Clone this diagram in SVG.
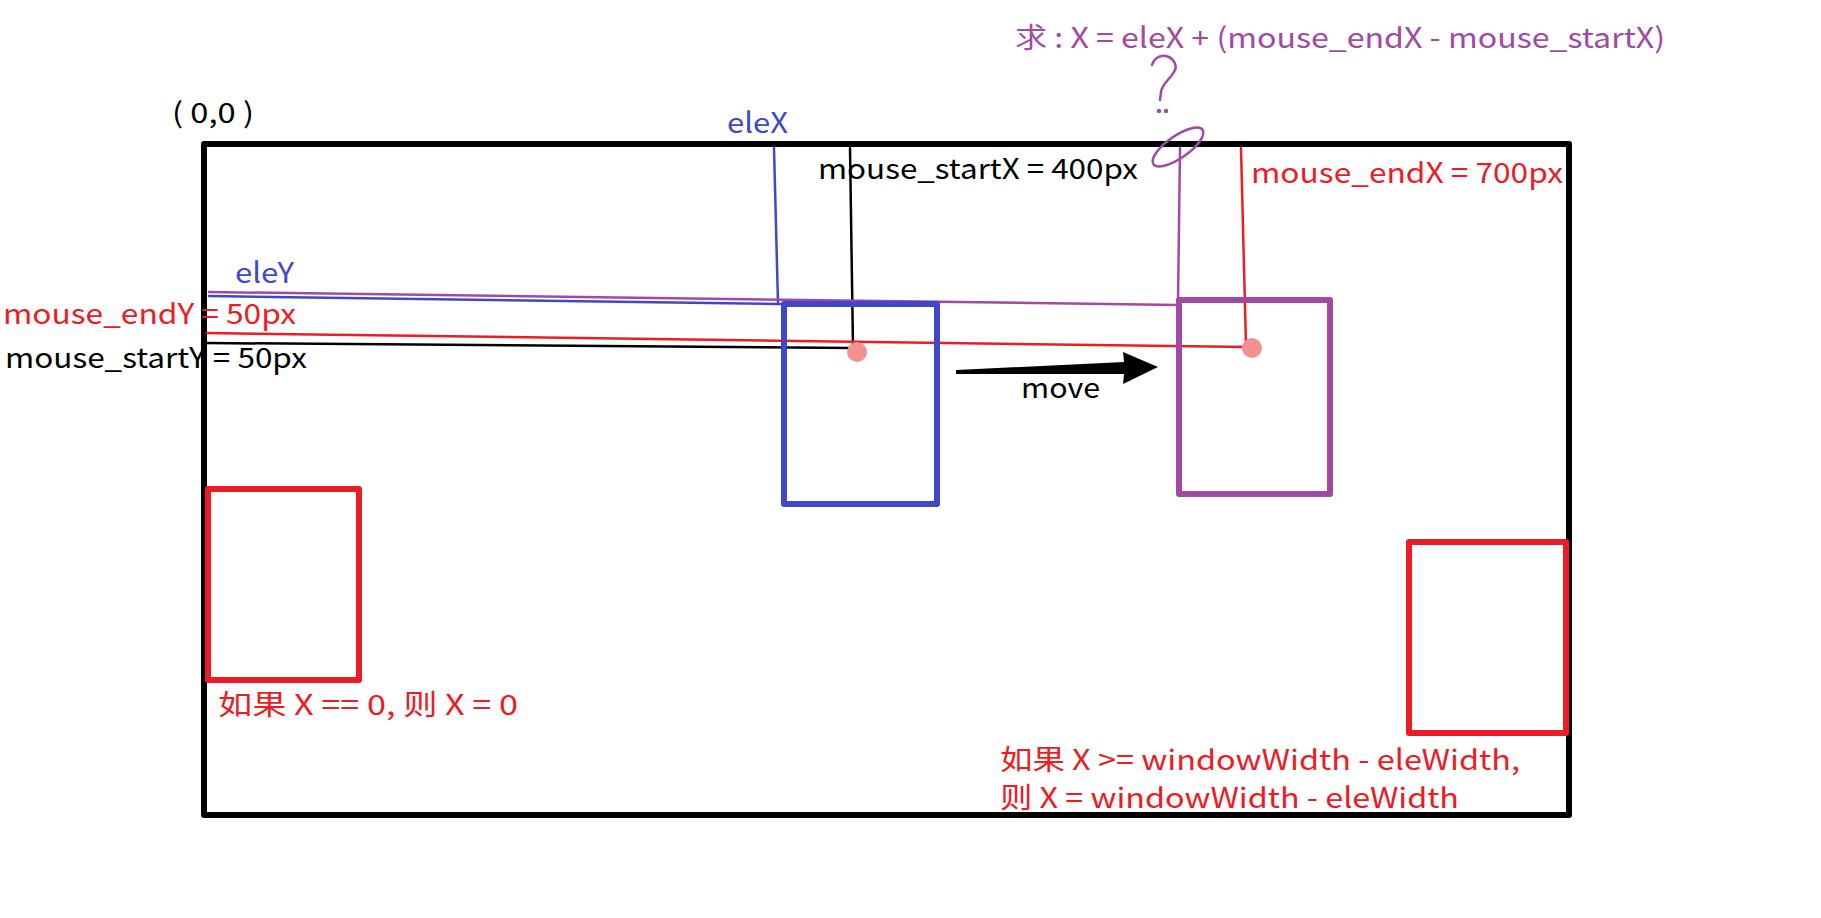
<svg xmlns="http://www.w3.org/2000/svg" width="1821" height="918" viewBox="0 0 1821 918">
<style>
text{font-family:"Noto Sans CJK SC","Noto Sans",sans-serif;font-size:28px}
.k{fill:#000}.r{fill:#ed1c24}.b{fill:#3f48cc}.p{fill:#a349a4}
.box{fill:none;stroke-width:6;stroke-linejoin:round}
.ln{fill:none;stroke-width:2.5;stroke-linecap:round}
</style>
<rect width="1821" height="918" fill="#fff"/>
<g id="window"><rect class="box" x="204" y="144" width="1365" height="671" stroke="#000"/></g>
<g id="connectors">
<line class="ln" x1="774" y1="148" x2="778" y2="304" stroke="#3f48cc"/>
<line class="ln" x1="850" y1="148" x2="853" y2="348" stroke="#000"/>
<line class="ln" x1="1180" y1="148" x2="1178" y2="302" stroke="#a349a4"/>
<line class="ln" x1="1241" y1="148" x2="1246" y2="346" stroke="#ed1c24"/>
<line class="ln" x1="209" y1="292" x2="1178" y2="305" stroke="#a349a4" stroke-width="3"/>
<line class="ln" x1="209" y1="296" x2="780" y2="304" stroke="#3f48cc" stroke-width="3"/>
<line class="ln" x1="207" y1="333" x2="1248" y2="347" stroke="#ed1c24" stroke-width="3"/>
<line class="ln" x1="207" y1="343" x2="852" y2="348" stroke="#000" stroke-width="3"/>
<polygon points="956,370 1124,362 1123,352 1158,367 1123,384 1124,374 956,374" fill="#000"/>
</g>
<g id="start-box"><rect class="box" x="784" y="304" width="153" height="200" stroke="#3f48cc"/><circle cx="857" cy="352" r="10" fill="#f39191"/></g>
<g id="end-box"><rect class="box" x="1179" y="300" width="151" height="194" stroke="#a349a4"/><circle cx="1252" cy="348" r="10" fill="#f39191"/></g>
<g id="left-box"><rect class="box" x="208" y="489" width="151" height="191" stroke="#ed1c24"/></g>
<g id="right-box"><rect class="box" x="1409" y="542" width="157" height="191" stroke="#ed1c24"/></g>
<g id="question" fill="none" stroke="#a349a4" stroke-width="2.5" stroke-linecap="round">
<path d="M1152,65 C1154,58 1160,55 1166,56 C1174,58 1178,66 1174,72 C1170,79 1162,84 1161,92 L1160,100"/>
<circle cx="1159" cy="111" r="1" fill="#a349a4"/><circle cx="1166" cy="111" r="1" fill="#a349a4"/>
<ellipse cx="1178" cy="147" rx="30" ry="11" transform="rotate(-35 1178 147)"/>
</g>
<g id="labels">
<text class="k" x="172" y="123" textLength="82" lengthAdjust="spacingAndGlyphs">( 0,0 )</text>
<text class="b" x="727" y="133" textLength="61" lengthAdjust="spacingAndGlyphs">eleX</text>
<text class="k" x="818" y="179" textLength="320" lengthAdjust="spacingAndGlyphs">mouse_startX = 400px</text>
<text class="r" x="1251" y="183" textLength="312" lengthAdjust="spacingAndGlyphs">mouse_endX = 700px</text>
<text class="p" x="1015" y="48" textLength="650" lengthAdjust="spacingAndGlyphs">求 : X = eleX + (mouse_endX - mouse_startX)</text>
<text class="b" x="235" y="283" textLength="59" lengthAdjust="spacingAndGlyphs">eleY</text>
<text class="r" x="3" y="324" textLength="293" lengthAdjust="spacingAndGlyphs">mouse_endY = 50px</text>
<text class="k" x="5" y="368" textLength="302" lengthAdjust="spacingAndGlyphs">mouse_startY = 50px</text>
<text class="k" x="1021" y="398" textLength="79" lengthAdjust="spacingAndGlyphs">move</text>
<text class="r" x="218" y="715" textLength="300" lengthAdjust="spacingAndGlyphs">如果 X == 0, 则 X = 0</text>
<text class="r" x="1000" y="770" textLength="520" lengthAdjust="spacingAndGlyphs">如果 X &gt;= windowWidth - eleWidth,</text>
<text class="r" x="1000" y="808" textLength="459" lengthAdjust="spacingAndGlyphs">则 X = windowWidth - eleWidth</text>
</g>
</svg>
